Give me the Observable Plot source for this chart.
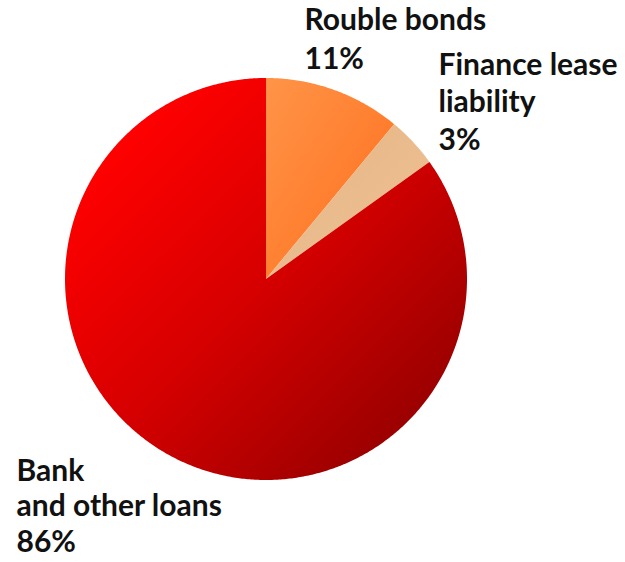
<!DOCTYPE html>
<html>
<head>
<meta charset="utf-8">
<script src="https://cdn.jsdelivr.net/npm/d3@7"></script>
<script src="https://cdn.jsdelivr.net/npm/@observablehq/plot@0.6"></script>
<style>
  html, body { margin: 0; padding: 0; background: #ffffff; }
  #chart svg { display: block; }
</style>
</head>
<body>
<div id="chart"></div>
<script>
// ---- data ----
const categories = ["Rouble bonds", "Finance lease liability", "Bank and other loans"];
const shares = [11, 4.1, 84.9];           // slice sizes as drawn
const percentLabels = ["11%", "3%", "86%"]; // printed labels
const labelTitles = ["Rouble bonds", "Finance lease\nliability", "Bank\nand other loans"];
const gradientStops = [
  [[0, "#ff9448"], [1, "#ff6e1c"]],
  [[0, "#e4b282"], [1, "#f0c496"]],
  [[0.15, "#ff0000"], [0.5, "#d60000"], [0.85, "#9c0000"]]
];

// ---- build slices via d3.pie (0 = 12 o'clock, clockwise) ----
const pie = d3.pie().sort(null).value(d => d)(shares);
const slices = pie.map((p, i) => {
  const n = Math.max(2, Math.ceil((p.endAngle - p.startAngle) / (2 * Math.PI) * 720));
  const pts = d3.range(n + 1).map(k => {
    const a = p.startAngle + (p.endAngle - p.startAngle) * k / n;
    return {category: categories[i], x: Math.sin(a), y: Math.cos(a)};
  });
  return {i, pts};
});

const marks = slices.map(s =>
  Plot.area(s.pts, {
    x1: () => 0, y1: () => 0, x2: "x", y2: "y",
    curve: "linear",
    fill: `url(#grad${s.i})`
  })
);

const FS = 30;
const labelOpts = [
  {dx: 304, base: 29, lineHeight: 1.33},
  {dx: 438, base: 74, lineHeight: 1.25},
  {dx: 16, base: 480, lineHeight: 1.19}
];
labelOpts.forEach((o, i) => {
  marks.push(Plot.text([labelTitles[i] + "\n" + percentLabels[i]], {
    text: d => d,
    frameAnchor: "top-left",
    textAnchor: "start",
    lineAnchor: "top",
    dx: o.dx, dy: o.base - 0.71 * o.lineHeight * FS,
    lineHeight: o.lineHeight,
    fontSize: FS,
    fontWeight: "bold",
    fill: "#111111"
  }));
});

const svg = Plot.plot({
  width: 625,
  height: 562,
  margin: 0,
  style: {fontFamily: "Lato, 'Open Sans', sans-serif", background: "#ffffff"},
  x: {domain: [-1, 1], range: [65, 467], axis: null},
  y: {domain: [-1, 1], range: [480, 78], axis: null},
  marks
});

const defs = d3.select(svg).insert("defs", ":first-child");
gradientStops.forEach((stops, i) => {
  const g = defs.append("linearGradient")
    .attr("id", `grad${i}`)
    .attr("x1", 0).attr("y1", 0).attr("x2", 1).attr("y2", 1);
  stops.forEach(([o, c]) => g.append("stop").attr("offset", o).attr("stop-color", c));
});

document.getElementById("chart").appendChild(svg);
</script>
</body>
</html>
